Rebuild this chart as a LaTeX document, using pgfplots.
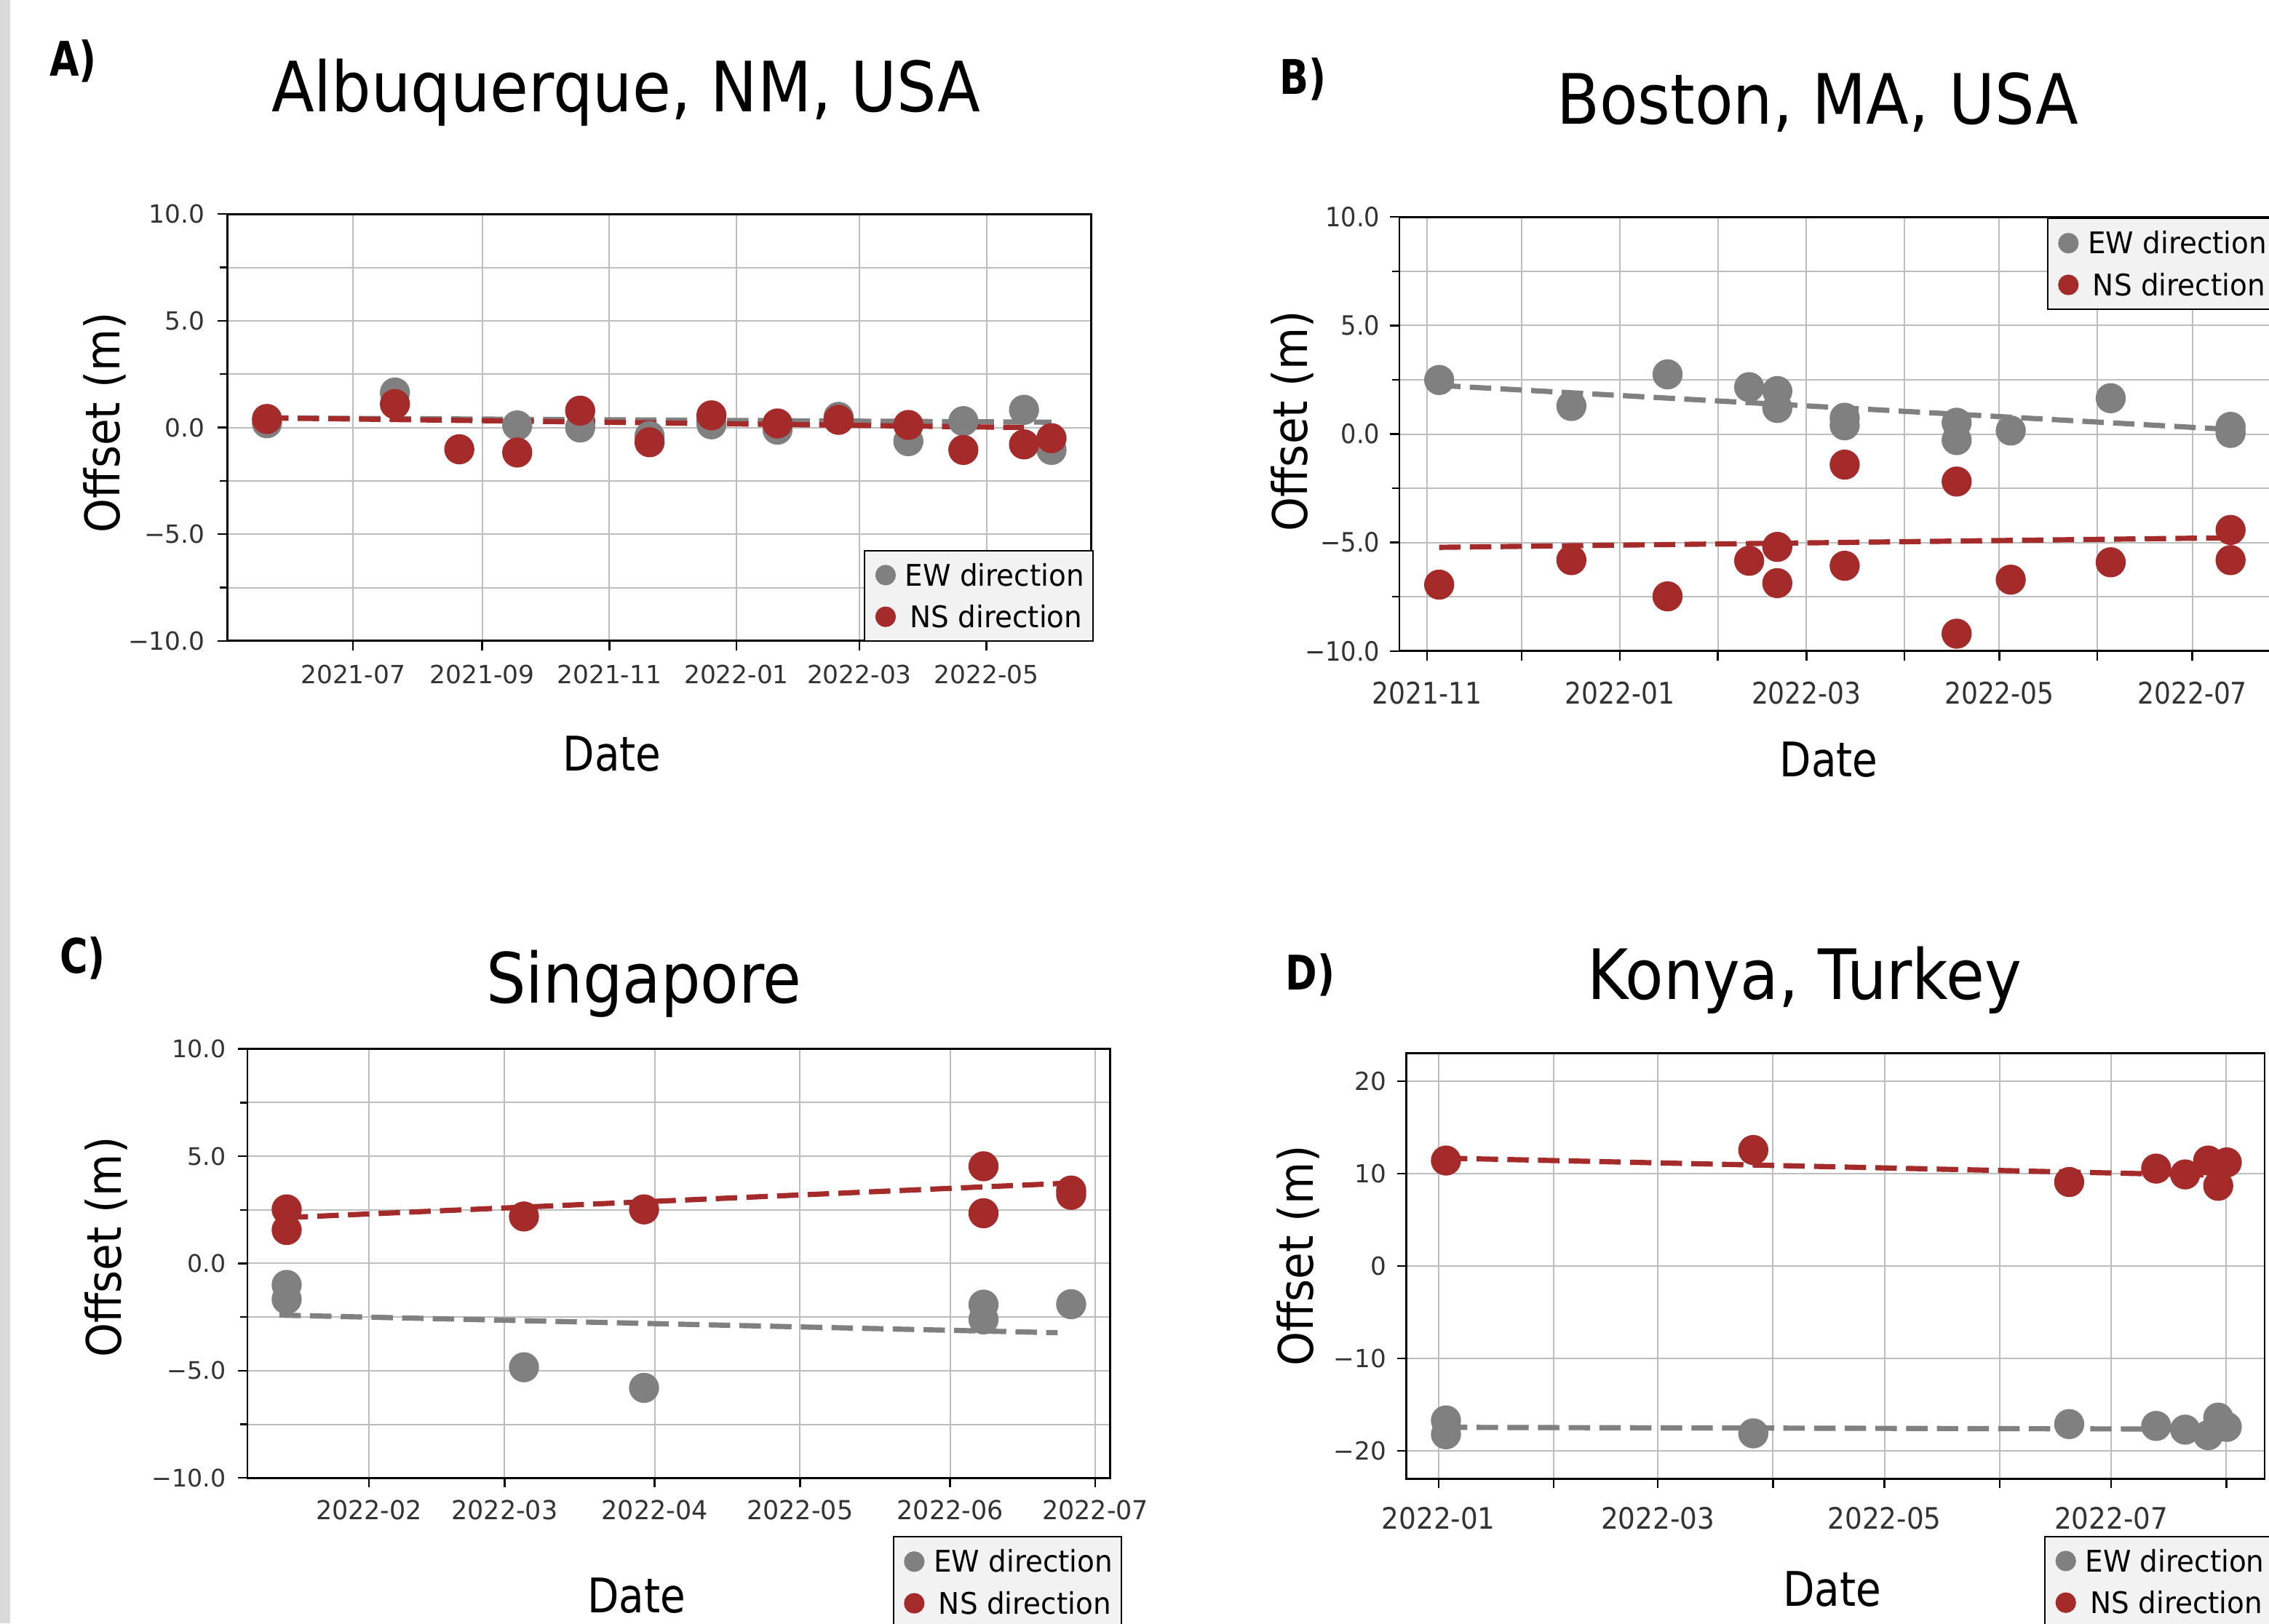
\documentclass[border=0pt]{standalone}
\usepackage{fontspec}
\setmainfont{DejaVu Sans}
\newfontfamily\titlefont{DejaVu Sans}[FakeStretch=0.9]
\newfontfamily\datefont{DejaVu Sans}[FakeStretch=0.86]
\newfontfamily\letterfont{DejaVu Sans}[FakeStretch=0.8]
\newfontfamily\legfont{DejaVu Sans}[FakeStretch=0.95]
\newfontfamily\offsetfont{DejaVu Sans}[FakeStretch=0.91]
\newfontfamily\tickfontA{DejaVu Sans}[FakeStretch=0.88]
\newfontfamily\tickfontB{DejaVu Sans}[FakeStretch=0.92]
\newfontfamily\tickfontC{DejaVu Sans}[FakeStretch=0.97]
\usepackage{pgfplots}
\pgfplotsset{compat=1.18}
\definecolor{ewgray}{HTML}{808080}
\definecolor{nsred}{HTML}{A52A2A}
\definecolor{gridgray}{HTML}{BDBDBD}
\definecolor{legbg}{HTML}{F2F2F2}
\definecolor{leftbar}{HTML}{D9D9D9}
\definecolor{ticktext}{HTML}{333333}
\pgfplotsset{
  panel/.style={
    scale only axis,
    axis line style={black, line width=0.7pt},
    tick align=outside,
    tick pos=left,
    major tick length=3.3pt,
    minor tick length=2.5pt,
    tick style={black, line width=0.6pt},
    xmajorgrids, ymajorgrids, yminorgrids,
    major grid style={gridgray, line width=0.5pt},
    minor grid style={gridgray, line width=0.5pt},
    tick label style={font=\fontsize{8.65}{10}\selectfont, text=ticktext, inner sep=0pt},
    xticklabel style={anchor=north},
    yticklabel style={anchor=east},
    xlabel style={font=\datefont\fontsize{16.5}{18}\selectfont, inner sep=0pt, anchor=center},
    ylabel style={font=\offsetfont\fontsize{16.5}{18}\selectfont, inner sep=0pt, anchor=center},
    xlabel={Date}, ylabel={Offset (m)},
    legend style={fill=legbg, draw=black, line width=0.5pt, anchor=north west,
      inner xsep=1.5pt, inner ysep=1.3pt,
      font=\legfont\fontsize{10.3}{12}\selectfont,
      cells={anchor=west},
      nodes={inner xsep=1.5pt, inner ysep=3.3pt, text height=7.6pt, text depth=0.2pt}},
    legend image code/.code={\path (0pt,0pt) (10.5pt,0pt); \draw[##1] plot coordinates {(5.5pt,0pt)};},
  },
  ewdot/.style={only marks, mark=*, mark size=5pt, color=ewgray, mark options={draw=none}, forget plot},
  nsdot/.style={only marks, mark=*, mark size=5pt, color=nsred, mark options={draw=none}, forget plot},
  ewtrend/.style={color=ewgray, line width=1.8pt, dash pattern=on 7.4pt off 3.2pt, forget plot, no marks},
  nstrend/.style={color=nsred, line width=1.8pt, dash pattern=on 7.4pt off 3.2pt, forget plot, no marks},
  tenaxis/.style={ymin=-10, ymax=10, ytick={-10,-5,0,5,10}, minor ytick={-7.5,-2.5,2.5,7.5},
    yticklabels={−10.0,−5.0,0.0,5.0,10.0}},
}
\newcommand{\legentries}{%
  \addlegendimage{only marks, mark=*, mark size=3.3pt, color=ewgray, mark options={draw=none}}
  \addlegendentry{EW direction}
  \addlegendimage{only marks, mark=*, mark size=3.3pt, color=nsred, mark options={draw=none}}
  \addlegendentry{\hspace*{1.7pt}NS direction}
}
\begin{document}
\begin{tikzpicture}
\useasboundingbox (0,0) rectangle (784pt,561pt);
\clip (0,0) rectangle (784pt,561pt);
\fill[white] (0,0) rectangle (784pt,561pt);
\fill[leftbar] (0,0) rectangle (3.5pt,561pt);

% ---------------- A) Albuquerque
\begin{axis}[panel, tenaxis, at={(78.5pt,339.5pt)}, width=298.5pt, height=147.5pt,
  xmin=-60.4, xmax=354.2,
  xtick={0,62,123,184,243,304},
  xticklabels={2021-07,2021-09,2021-11,2022-01,2022-03,2022-05},
  xticklabel style={yshift=-4.7pt},
  yticklabel style={xshift=-4.2pt},
  xlabel style={at={(axis description cs:0.4456,-0.264)}},
  ylabel style={at={(axis description cs:-0.142,0.512)}},
  legend style={at={(0.737,0.2136)}}]
\addplot[ewdot] coordinates {(-41.3,0.2) (20.1,1.64) (78.8,0.1) (109,0.0) (142.3,-0.4) (172,0.15) (203.7,-0.1) (233,0.5) (266.5,-0.64) (292.9,0.3) (322,0.83) (335.2,-1.05)};
\addplot[nsdot] coordinates {(-41.3,0.4) (20.1,1.1) (51,-1.02) (78.8,-1.17) (109,0.79) (142.3,-0.69) (172,0.57) (203.7,0.19) (233,0.36) (266.5,0.12) (292.9,-1.05) (322,-0.79) (335.2,-0.5)};
\addplot[ewtrend] coordinates {(-41.3,0.45) (335.2,0.25)};
\addplot[nstrend] coordinates {(-41.3,0.45) (322,0.0)};
\legentries
\end{axis}

% ---------------- B) Boston
\begin{axis}[panel, tenaxis, at={(483.5pt,336pt)}, width=303.5pt, height=150pt,
  xmin=114.3, xmax=392,
  xtick={123,153,184,215,243,274,304,335,365},
  xticklabels={2021-11,,2022-01,,2022-03,,2022-05,,2022-07},
  xticklabel style={font=\tickfontA\fontsize{10.3}{12}\selectfont, yshift=-7.1pt},
  yticklabel style={font=\tickfontB\fontsize{9.2}{11}\selectfont, xshift=-3.2pt},
  xlabel style={at={(axis description cs:0.489,-0.25)}},
  ylabel style={at={(axis description cs:-0.122,0.53)}},
  legend style={at={(0.737,0.998)}}]
\addplot[ewdot] coordinates {(126.9,2.49) (168.7,1.29) (199.1,2.75) (224.9,2.16) (233.8,1.98) (233.8,1.2) (255.1,0.75) (255.1,0.4) (290.5,0.52) (290.5,-0.28) (307.6,0.16) (339.2,1.65) (377.1,0.33) (377.1,0.05)};
\addplot[nsdot] coordinates {(126.9,-6.94) (168.7,-5.81) (199.1,-7.48) (224.9,-5.84) (233.8,-5.2) (233.8,-6.87) (255.1,-1.41) (255.1,-6.07) (290.5,-2.19) (290.5,-9.2) (307.6,-6.71) (339.2,-5.91) (377.1,-4.42) (377.1,-5.81)};
\addplot[ewtrend] coordinates {(126.9,2.24) (377.1,0.21)};
\addplot[nstrend] coordinates {(126.9,-5.22) (377.1,-4.78)};
\legentries
\end{axis}

% ---------------- C) Singapore
\begin{axis}[panel, tenaxis, at={(85.5pt,50.25pt)}, width=298pt, height=148.25pt,
  xmin=189.9, xmax=368,
  xtick={215,243,274,304,335,365},
  xticklabels={2022-02,2022-03,2022-04,2022-05,2022-06,2022-07},
  xticklabel style={font=\tickfontC\fontsize{9.05}{11}\selectfont, yshift=-4.1pt},
  yticklabel style={font=\fontsize{8.35}{10}\selectfont, xshift=-3.9pt},
  xlabel style={at={(axis description cs:0.451,-0.275)}},
  ylabel style={at={(axis description cs:-0.164,0.538)}},
  legend style={at={(0.748,-0.136)}}]
\addplot[ewdot] coordinates {(198,-1.0) (198,-1.67) (247,-4.84) (271.8,-5.8) (341.9,-1.92) (341.9,-2.61) (360,-1.9)};
\addplot[nsdot] coordinates {(198,2.52) (198,1.56) (247,2.19) (271.8,2.52) (341.9,4.53) (341.9,2.34) (360,3.4) (360,3.2)};
\addplot[ewtrend] coordinates {(196.5,-2.41) (357.2,-3.23)};
\addplot[nstrend] coordinates {(198,2.14) (360,3.75)};
\legentries
\end{axis}

% ---------------- D) Konya
\begin{axis}[panel, at={(486pt,50pt)}, width=296.5pt, height=147pt,
  xmin=175.4, xmax=406.3, ymin=-23, ymax=23,
  ytick={-20,-10,0,10,20}, yticklabels={−20,−10,0,10,20},
  xtick={184,215,243,274,304,335,365,396},
  xticklabels={2022-01,,2022-03,,2022-05,,2022-07,},
  xticklabel style={font=\tickfontB\fontsize{10.2}{12}\selectfont, yshift=-6.35pt},
  yticklabel style={font=\fontsize{8.6}{10}\selectfont, xshift=-3.55pt},
  xlabel style={at={(axis description cs:0.496,-0.259)}},
  ylabel style={at={(axis description cs:-0.126,0.524)}},
  legend style={at={(0.7429,-0.134)}}]
\addplot[ewdot] coordinates {(186,-16.7) (186,-18.2) (268.7,-18.1) (353.7,-17.1) (377.1,-17.3) (384.9,-17.7) (391.1,-18.3) (393.8,-16.4) (396.1,-17.4)};
\addplot[nsdot] coordinates {(186,11.4) (268.7,12.54) (353.7,9.08) (377.1,10.53) (384.9,9.9) (391.1,11.4) (393.8,8.67) (396.1,11.2)};
\addplot[ewtrend] coordinates {(186,-17.45) (396,-17.65)};
\addplot[nstrend] coordinates {(186,11.66) (396,9.78)};
\legentries
\end{axis}

% titles and panel letters
\node[anchor=base, inner sep=0pt, font=\titlefont\fontsize{24}{28}\selectfont] at (216.3pt,522.5pt) {Albuquerque, NM, USA};
\node[anchor=base west, inner sep=0pt, font=\letterfont\bfseries\fontsize{16.5}{18}\selectfont] at (16.9pt,534.6pt) {A)};
\node[anchor=base, inner sep=0pt, font=\titlefont\fontsize{24}{28}\selectfont] at (628pt,518.15pt) {Boston, MA, USA};
\node[anchor=base west, inner sep=0pt, font=\letterfont\bfseries\fontsize{16.5}{18}\selectfont] at (442pt,528.5pt) {B)};
\node[anchor=base, inner sep=0pt, font=\titlefont\fontsize{24}{28}\selectfont] at (222.5pt,214.5pt) {Singapore};
\node[anchor=base west, inner sep=0pt, font=\letterfont\bfseries\fontsize{16.5}{18}\selectfont] at (20.5pt,224.65pt) {C)};
\node[anchor=base, inner sep=0pt, font=\titlefont\fontsize{24}{28}\selectfont] at (623.5pt,215.6pt) {Konya, Turkey};
\node[anchor=base west, inner sep=0pt, font=\letterfont\bfseries\fontsize{16.5}{18}\selectfont] at (444pt,219pt) {D)};
\end{tikzpicture}
\end{document}
